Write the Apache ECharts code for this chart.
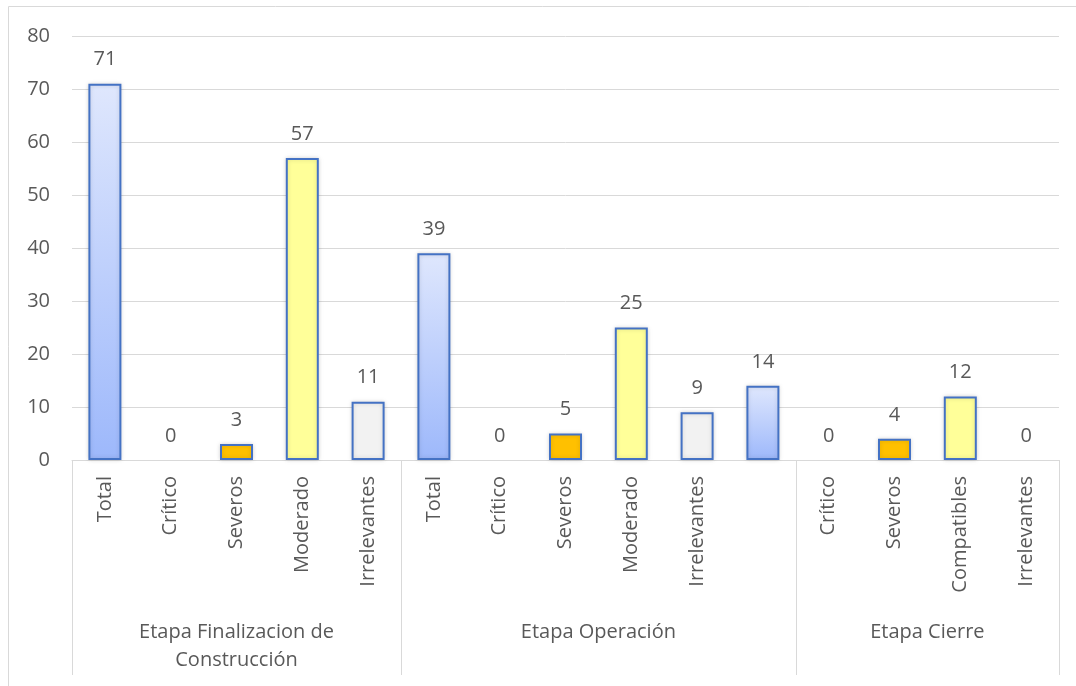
<!DOCTYPE html>
<html>
<head>
<meta charset="utf-8">
<script src="https://cdn.jsdelivr.net/npm/echarts@6/dist/echarts.min.js"></script>
<style>
  html, body { margin: 0; padding: 0; background: #fff; }
  #chart { width: 1076px; height: 686px; }
</style>
</head>
<body>
<div id="chart"></div>
<script>
// datos
const categories = ['Total', 'Crítico', 'Severos', 'Moderado', 'Irrelevantes',
  'Total', 'Crítico', 'Severos', 'Moderado', 'Irrelevantes', '',
  'Crítico', 'Severos', 'Compatibles', 'Irrelevantes'];
const values = [71, 0, 3, 57, 11, 39, 0, 5, 25, 9, 14, 0, 4, 12, 0];
const groupNames = ['Etapa Finalizacion de\nConstrucción', 'Etapa Operación', 'Etapa Cierre'];
const groupSizes = [5, 6, 4];
const yTicks = [0, 10, 20, 30, 40, 50, 60, 70, 80];

const FONT = 'Open Sans';
const GREY = '#595959';
const FS = 20;

// limites y centros de cada grupo (en unidades de categoria)
const bounds = [0];
groupSizes.forEach(n => bounds.push(bounds[bounds.length - 1] + n));
const centers = groupSizes.map((n, i) => bounds[i] + n / 2);

const blueGrad = new echarts.graphic.LinearGradient(0, 0, 0, 1, [
  { offset: 0, color: '#dfe7fd' },
  { offset: 1, color: '#9db8fb' }
]);
function fillFor(name) {
  if (name === 'Total' || name === '') return blueGrad;
  if (name === 'Severos') return '#ffc000';
  if (name === 'Moderado' || name === 'Compatibles') return '#ffff99';
  return '#f2f2f2';
}

const chart = echarts.init(document.getElementById('chart'));
const option = {
  animation: false,
  grid: { left: 72, right: 17, top: 36, bottom: 226 },
  graphic: [{
    type: 'rect',
    shape: { x: 8.5, y: 6.5, width: 1200, height: 800 },
    style: { fill: 'none', stroke: '#d9d9d9', lineWidth: 1 },
    silent: true
  }],
  xAxis: [
    {
      type: 'category',
      data: categories,
      axisLine: { lineStyle: { color: '#d9d9d9' } },
      axisTick: { show: false },
      axisLabel: {
        rotate: 90, interval: 0, margin: 16,
        color: GREY, fontFamily: FONT, fontSize: FS
      }
    },
    {
      type: 'value',
      min: 0, max: categories.length,
      position: 'bottom',
      axisLine: { show: false },
      splitLine: { show: false },
      axisTick: {
        show: true, length: 215, customValues: bounds,
        lineStyle: { color: '#d9d9d9' }
      },
      axisLabel: {
        customValues: centers, margin: 158, lineHeight: 28,
        color: GREY, fontFamily: FONT, fontSize: FS,
        formatter: v => groupNames[centers.indexOf(v)] || ''
      }
    }
  ],
  yAxis: {
    type: 'value', min: yTicks[0], max: yTicks[yTicks.length - 1], interval: 10,
    axisLine: { show: false },
    axisTick: { show: false },
    splitLine: { lineStyle: { color: '#d9d9d9' } },
    axisLabel: { margin: 22, color: GREY, fontFamily: FONT, fontSize: FS }
  },
  series: [{
    type: 'bar',
    xAxisIndex: 0,
    barWidth: 33,
    data: values.map((v, i) => ({
      value: v,
      itemStyle: {
        color: fillFor(categories[i]),
        borderWidth: v === 0 ? 0 : 2,
        shadowBlur: v === 0 ? 0 : 4
      }
    })),
    itemStyle: {
      borderColor: '#4472c4',
      shadowColor: 'rgba(0,0,0,0.15)'
    },
    label: {
      show: true, position: 'top', distance: 14,
      color: GREY, fontFamily: FONT, fontSize: FS
    }
  }]
};
chart.setOption(option);
</script>
</body>
</html>
